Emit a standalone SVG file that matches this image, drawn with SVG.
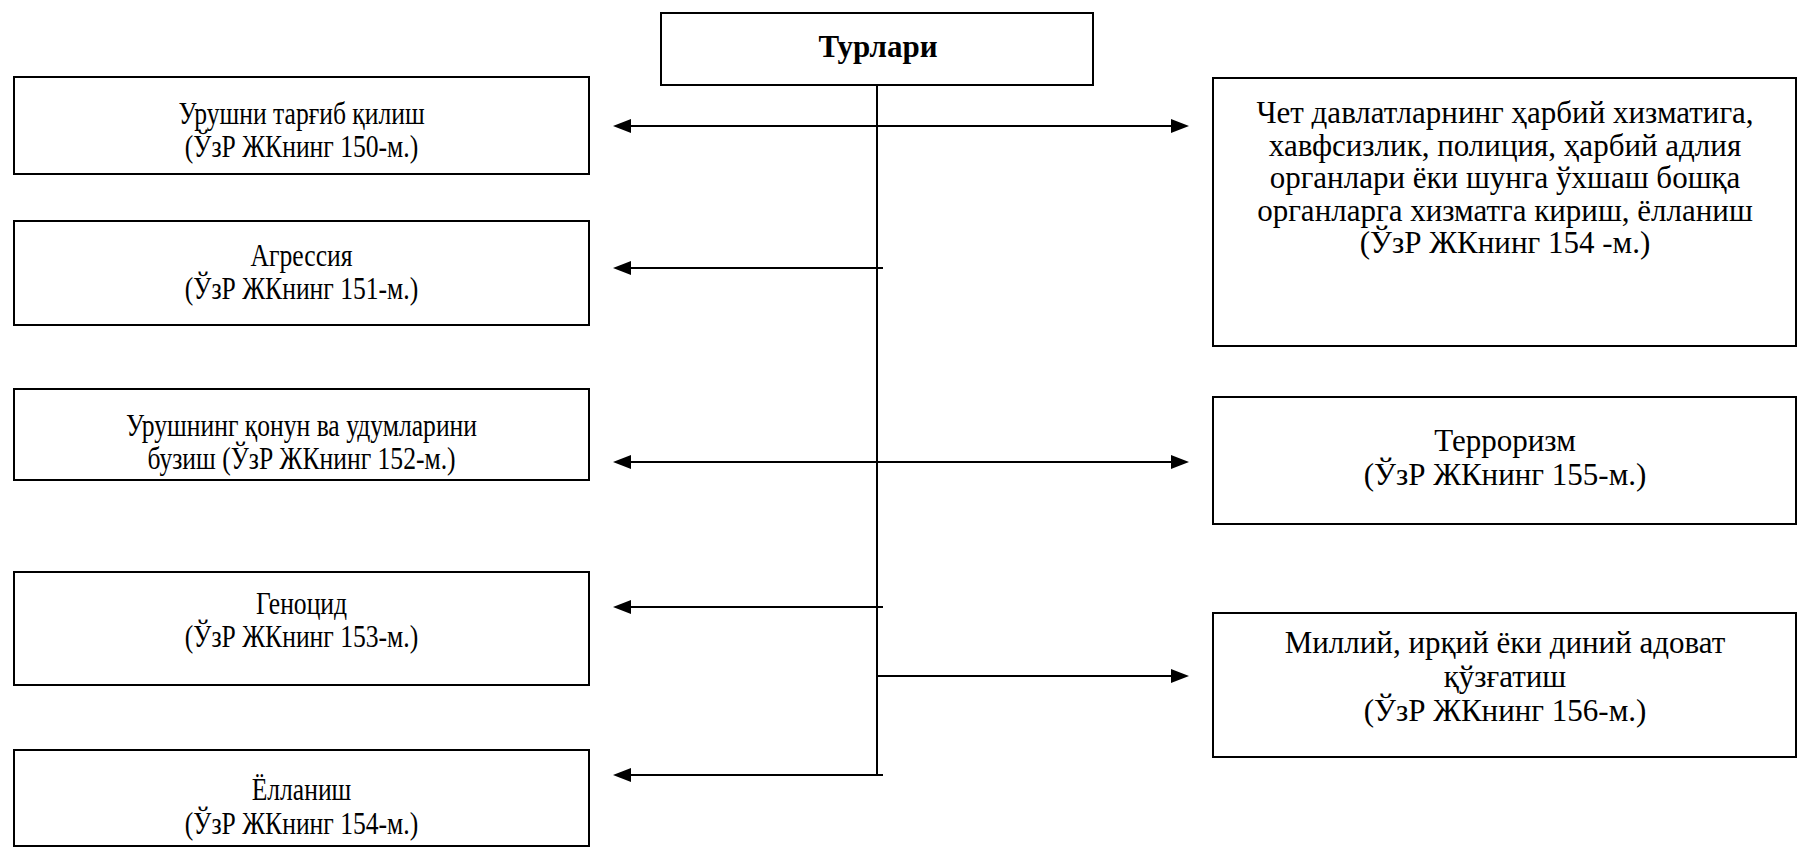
<svg xmlns="http://www.w3.org/2000/svg" width="1798" height="847" viewBox="0 0 1798 847">
<defs>
<marker id="ah" viewBox="0 0 18 14" refX="0" refY="7" markerWidth="18" markerHeight="14" markerUnits="userSpaceOnUse" orient="auto-start-reverse">
<path d="M0,0 L18,7 L0,14 z" fill="#000"/>
</marker>
<style>
.box{fill:#fff;stroke:#000;stroke-width:2}
.ln{fill:none;stroke:#000;stroke-width:2}
.ar{fill:none;stroke:#000;stroke-width:2;marker-end:url(#ah)}
.ar2{fill:none;stroke:#000;stroke-width:2;marker-start:url(#ah);marker-end:url(#ah)}
</style>
</defs>
<rect width="1798" height="847" fill="#fff"/>
<g id="connectors">
<path class="ln" d="M877,85 L877,775"/>
<path class="ar2" d="M631,126 L1171,126"/>
<path class="ar" d="M883,268 L631,268"/>
<path class="ar2" d="M631,462 L1171,462"/>
<path class="ar" d="M883,607 L631,607"/>
<path class="ar" d="M877,676 L1171,676"/>
<path class="ar" d="M883,775 L631,775"/>
</g>
<g font-family="Liberation Serif, Times New Roman, DejaVu Serif, serif" fill="#000" text-anchor="middle">
<g id="turlari">
<rect class="box" x="661" y="13" width="432" height="72"/>
<text x="878" y="57" font-size="31" font-weight="bold">Турлари</text>
</g>
<g id="n150" font-size="32">
<rect class="box" x="14" y="77" width="575" height="97"/>
<g transform="translate(301.5,0) scale(0.8,1)">
<text x="0" y="124">Урушни тарғиб қилиш</text>
<text x="0" y="157">(ЎзР ЖКнинг 150-м.)</text>
</g>
</g>
<g id="n151" font-size="32">
<rect class="box" x="14" y="221" width="575" height="104"/>
<g transform="translate(301.5,0) scale(0.8,1)">
<text x="0" y="266">Агрессия</text>
<text x="0" y="299">(ЎзР ЖКнинг 151-м.)</text>
</g>
</g>
<g id="n152" font-size="32">
<rect class="box" x="14" y="389" width="575" height="91"/>
<g transform="translate(301.5,0) scale(0.8,1)">
<text x="0" y="436">Урушнинг қонун ва удумларини</text>
<text x="0" y="469">бузиш (ЎзР ЖКнинг 152-м.)</text>
</g>
</g>
<g id="n153" font-size="32">
<rect class="box" x="14" y="572" width="575" height="113"/>
<g transform="translate(301.5,0) scale(0.8,1)">
<text x="0" y="614">Геноцид</text>
<text x="0" y="647">(ЎзР ЖКнинг 153-м.)</text>
</g>
</g>
<g id="n154a" font-size="32">
<rect class="box" x="14" y="750" width="575" height="96"/>
<g transform="translate(301.5,0) scale(0.8,1)">
<text x="0" y="800">Ёлланиш</text>
<text x="0" y="834">(ЎзР ЖКнинг 154-м.)</text>
</g>
</g>
<g id="n154b" font-size="31">
<rect class="box" x="1213" y="78" width="583" height="268"/>
<text x="1505" y="123">Чет давлатларнинг ҳарбий хизматига,</text>
<text x="1505" y="155.5">хавфсизлик, полиция, ҳарбий адлия</text>
<text x="1505" y="188">органлари ёки шунга ўхшаш бошқа</text>
<text x="1505" y="220.5">органларга хизматга кириш, ёлланиш</text>
<text x="1505" y="253">(ЎзР ЖКнинг 154 -м.)</text>
</g>
<g id="n155" font-size="31">
<rect class="box" x="1213" y="397" width="583" height="127"/>
<text x="1505" y="451">Терроризм</text>
<text x="1505" y="485">(ЎзР ЖКнинг 155-м.)</text>
</g>
<g id="n156" font-size="31">
<rect class="box" x="1213" y="613" width="583" height="144"/>
<text x="1505" y="653">Миллий, ирқий ёки диний адоват</text>
<text x="1505" y="687">қўзғатиш</text>
<text x="1505" y="721">(ЎзР ЖКнинг 156-м.)</text>
</g>
</g>
</svg>
